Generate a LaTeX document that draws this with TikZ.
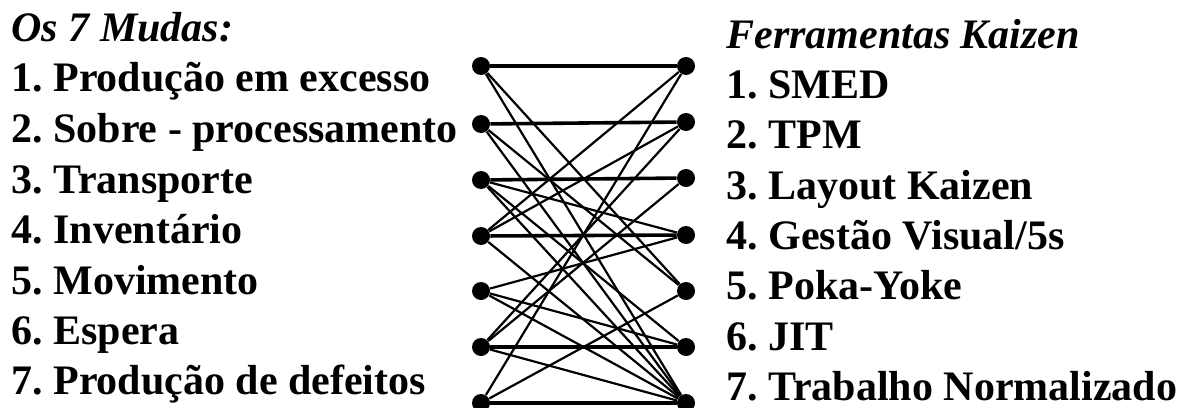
\documentclass[tikz,border=0pt]{standalone}
\usepackage{fontspec}
\setmainfont{Liberation Serif}
\usepackage{tikz}
\frenchspacing

\begin{document}
\begin{tikzpicture}[x=0.5pt, y=-0.5pt,
        dot/.style={circle, fill=black, inner sep=0pt, minimum size=9pt},
        link/.style={draw, line width=1.1pt},
        hlink/.style={draw, line width=1.8pt},
        item/.style={anchor=base west, inner sep=0pt, font=\fontsize{21}{24}\selectfont\bfseries},
        heading/.style={anchor=base west, inner sep=0pt, font=\fontsize{21}{24}\selectfont\bfseries\itshape}]
        \useasboundingbox (0,0) rectangle (1182,407);

        % titulos
        \node [heading] (mudas) at (11,41) {Os 7 Mudas:};
        \node [heading] (kaizen) at (726,48) {Ferramentas Kaizen};

        % lista dos mudas
        \node [item] (muda1) at (11,91) {1. Produção em excesso};
        \node [item] (muda2) at (11,142) {2. Sobre - processamento};
        \node [item] (muda3) at (11,193) {3. Transporte};
        \node [item] (muda4) at (11,243) {4. Inventário};
        \node [item] (muda5) at (11,294) {5. Movimento};
        \node [item] (muda6) at (11,344) {6. Espera};
        \node [item] (muda7) at (11,394) {7. Produção de defeitos};

        % lista das ferramentas
        \node [item] (ferr1) at (726,98) {1. SMED};
        \node [item] (ferr2) at (726,148) {2. TPM};
        \node [item] (ferr3) at (726,199) {3. Layout Kaizen};
        \node [item] (ferr4) at (726,249) {4. Gestão Visual/5s};
        \node [item] (ferr5) at (726,299) {5. Poka-Yoke};
        \node [item] (ferr6) at (726,350) {6. JIT};
        \node [item] (ferr7) at (726,400) {7. Trabalho Normalizado};

        % pontos
        \node [dot] (m1) at (481,66) {};
        \node [dot] (m2) at (481,124) {};
        \node [dot] (m3) at (481,180) {};
        \node [dot] (m4) at (481,236) {};
        \node [dot] (m5) at (481,291) {};
        \node [dot] (m6) at (481,347) {};
        \node [dot] (m7) at (481,403) {};
        \node [dot] (k1) at (686,66) {};
        \node [dot] (k2) at (686,122) {};
        \node [dot] (k3) at (686,178) {};
        \node [dot] (k4) at (686,235) {};
        \node [dot] (k5) at (686,291) {};
        \node [dot] (k6) at (686,347) {};
        \node [dot] (k7) at (686,403) {};

        % ligacoes
        \path [hlink] (m1) -- (k1);
        \path [hlink] (m2) -- (k2);
        \path [hlink] (m3) -- (k3);
        \path [hlink] (m4) -- (k4);
        \path [hlink] (m6) -- (k6);
        \path [hlink] (m7) -- (k7);
        \path [link] (m1) -- (k5);
        \path [link] (m1) -- (k7);
        \path [link] (m2) -- (k5);
        \path [link] (m2) -- (k7);
        \path [link] (m3) -- (k4);
        \path [link] (m3) -- (k6);
        \path [link] (m3) -- (k7);
        \path [link] (m4) -- (k1);
        \path [link] (m4) -- (k2);
        \path [link] (m4) -- (k7);
        \path [link] (m5) -- (k4);
        \path [link] (m5) -- (k6);
        \path [link] (m5) -- (k7);
        \path [link] (m6) -- (k2);
        \path [link] (m6) -- (k3);
        \path [link] (m6) -- (k7);
        \path [link] (m7) -- (k1);
        \path [link] (m7) -- (k5);
    \end{tikzpicture}
\end{document}
